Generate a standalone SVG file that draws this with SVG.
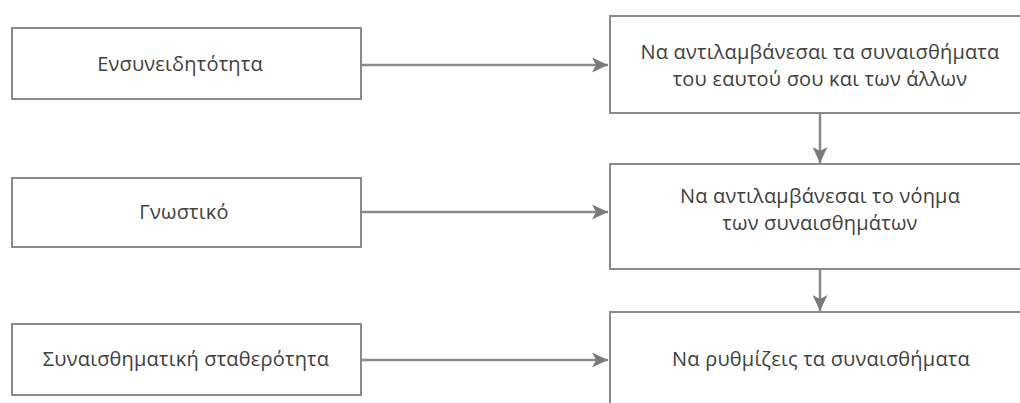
<svg xmlns="http://www.w3.org/2000/svg" width="1020" height="403" viewBox="0 0 1020 403">
<defs>
<style>
.box{fill:#fff;stroke:#8a8a8a;stroke-width:2}
.t{font-family:"Open Sans","DejaVu Sans",sans-serif;font-size:20px;fill:#404040;text-anchor:middle;letter-spacing:0.2px}
.c{stroke:#8a8a8a;stroke-width:2.5;fill:none}
</style>
<marker id="ah" viewBox="0 0 10 10" refX="10" refY="5" markerWidth="16" markerHeight="15" markerUnits="userSpaceOnUse" orient="auto" preserveAspectRatio="none">
<path d="M0,0 L10,5 L0,10 L2.5,5 Z" fill="#7a7a7a"/>
</marker>
</defs>
<rect width="1020" height="403" fill="#fff"/>
<g id="n1"><rect class="box" x="12" y="28" width="349" height="71"/><text class="t" x="180" y="71">Ενσυνειδητότητα</text></g>
<g id="n2"><rect class="box" x="12" y="178" width="349" height="69"/><text class="t" x="184" y="219">Γνωστικό</text></g>
<g id="n3"><rect class="box" x="12" y="324" width="349" height="71"/><text class="t" x="186" y="366">Συναισθηματική σταθερότητα</text></g>
<g id="r1"><path class="box" d="M1022,16 H610 V113 H1022"/><text class="t" x="820" y="59">Να αντιλαμβάνεσαι τα συναισθήματα</text><text class="t" x="820" y="86">του εαυτού σου και των άλλων</text></g>
<g id="r2"><path class="box" d="M1022,164 H610 V269 H1022"/><text class="t" x="820" y="203">Να αντιλαμβάνεσαι το νόημα</text><text class="t" x="820" y="230">των συναισθημάτων</text></g>
<g id="r3"><path class="box" d="M1022,312 H610 V405"/><text class="t" x="821" y="366">Να ρυθμίζεις τα συναισθήματα</text></g>
<g id="connectors">
<line class="c" x1="361" y1="65" x2="608" y2="65" marker-end="url(#ah)"/>
<line class="c" x1="361" y1="212" x2="608" y2="212" marker-end="url(#ah)"/>
<line class="c" x1="361" y1="360" x2="608" y2="360" marker-end="url(#ah)"/>
<line class="c" x1="820" y1="113" x2="820" y2="163" marker-end="url(#ah)"/>
<line class="c" x1="820" y1="269" x2="820" y2="311" marker-end="url(#ah)"/>
</g>
</svg>
